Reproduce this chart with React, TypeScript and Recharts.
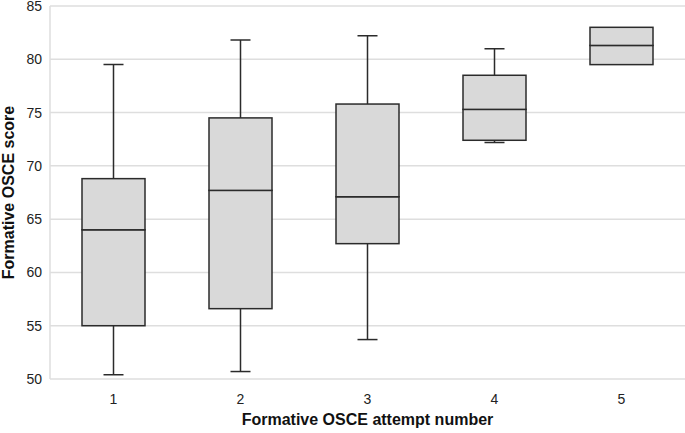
import React from "react";
import { ComposedChart, Bar, XAxis, YAxis, CartesianGrid } from "recharts";

const categories = ["1", "2", "3", "4", "5"];
const mins = [50.4, 50.7, 53.7, 72.2, 79.5];
const q1s = [55.0, 56.6, 62.7, 72.4, 79.5];
const medians = [64.0, 67.7, 67.1, 75.3, 81.3];
const q3s = [68.8, 74.5, 75.8, 78.5, 83.0];
const maxs = [79.5, 81.8, 82.2, 81.0, 83.0];
const yTicks = [50, 55, 60, 65, 70, 75, 80, 85];

const data = categories.map((c, i) => ({
  name: c,
  base: mins[i],
  lowWhisker: q1s[i] - mins[i],
  lowBox: medians[i] - q1s[i],
  highBox: q3s[i] - medians[i],
  highWhisker: maxs[i] - q3s[i],
}));

const FONT = "'Liberation Sans', Arial, sans-serif";
const STROKE = "#2b2b2b";
const FILL = "#d9d9d9";
const CAP = 10;

const BoxPart = (props: any) => {
  const { x, y, width, height } = props;
  if (!height || height <= 0) return null;
  return <rect x={x} y={y} width={width} height={height} fill={FILL} stroke={STROKE} strokeWidth={1.5} />;
};

const makeWhisker = (atTop: boolean) => (props: any) => {
  const { x, y, width, height } = props;
  if (!height || height <= 0) return null;
  const cx = x + width / 2;
  const capY = atTop ? y : y + height;
  return (
    <g>
      <line x1={cx} x2={cx} y1={y} y2={y + height} stroke={STROKE} strokeWidth={1.5} />
      <line x1={cx - CAP} x2={cx + CAP} y1={capY} y2={capY} stroke={STROKE} strokeWidth={1.5} />
    </g>
  );
};

const LowWhisker = makeWhisker(false);
const HighWhisker = makeWhisker(true);

export default function App() {
  return (
    <div style={{ position: "absolute", left: 0, top: 0, width: 685, height: 433, background: "#fff" }}>
      <ComposedChart width={685} height={433} data={data} margin={{ top: 6, right: 0, left: 0, bottom: 0 }}>
        <CartesianGrid vertical={false} stroke="#dedede" strokeWidth={1.5} />
        <XAxis
          dataKey="name"
          height={54}
          axisLine={false}
          tickLine={false}
          tickMargin={9}
          tick={{ fill: "#222", fontSize: 14, fontFamily: FONT }}
          label={{
            content: ({ viewBox }: any) => (
              <text
                x={viewBox.x + viewBox.width / 2}
                y={viewBox.y + 46}
                textAnchor="middle"
                fontFamily={FONT}
                fontSize={16}
                fontWeight="bold"
                fill="#111"
              >
                Formative OSCE attempt number
              </text>
            ),
          }}
        />
        <YAxis
          width={50}
          domain={[50, 85]}
          allowDataOverflow
          ticks={yTicks}
          interval={0}
          axisLine={{ stroke: "#dedede", strokeWidth: 1.5 }}
          tickLine={false}
          tick={{ fill: "#222", fontSize: 14, fontFamily: FONT }}
          label={{
            content: ({ viewBox }: any) => {
              const lx = viewBox.x + 14;
              const ly = viewBox.y + viewBox.height / 2;
              return (
                <text
                  x={lx}
                  y={ly}
                  transform={`rotate(-90 ${lx} ${ly})`}
                  textAnchor="middle"
                  fontFamily={FONT}
                  fontSize={16}
                  fontWeight="bold"
                  fill="#111"
                >
                  Formative OSCE score
                </text>
              );
            },
          }}
        />
        <Bar dataKey="base" stackId="box" fill="transparent" barSize={63} isAnimationActive={false} shape={() => null} />
        <Bar dataKey="lowWhisker" stackId="box" barSize={63} isAnimationActive={false} shape={LowWhisker} />
        <Bar dataKey="lowBox" stackId="box" barSize={63} isAnimationActive={false} shape={BoxPart} />
        <Bar dataKey="highBox" stackId="box" barSize={63} isAnimationActive={false} shape={BoxPart} />
        <Bar dataKey="highWhisker" stackId="box" barSize={63} isAnimationActive={false} shape={HighWhisker} />
      </ComposedChart>
    </div>
  );
}
